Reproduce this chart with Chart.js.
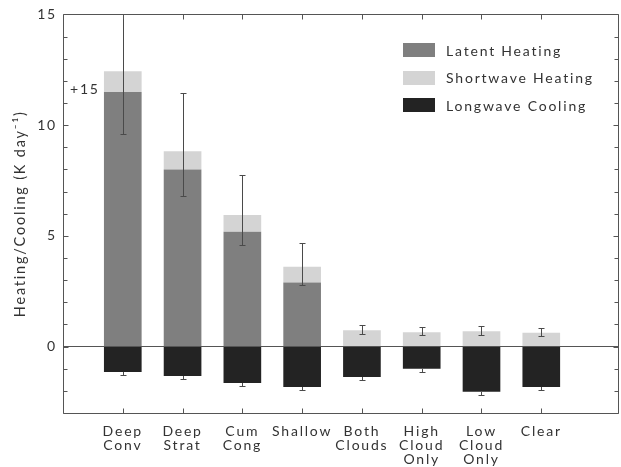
<!DOCTYPE html>
<html>
<head>
<meta charset="utf-8">
<script src="https://cdn.jsdelivr.net/npm/chart.js@4.4.1/dist/chart.umd.min.js"></script>
<style>
html,body{margin:0;padding:0;background:#fff;}
canvas{display:block;}
</style>
</head>
<body>
<canvas id="c" width="621" height="467"></canvas>
<script>
// ---- data ----
const categories = [['Deep','Conv'],['Deep','Strat'],['Cum','Cong'],['Shallow'],['Both','Clouds'],['High','Cloud','Only'],['Low','Cloud','Only'],['Clear']];
const seriesNames = ['Latent Heating','Shortwave Heating','Longwave Cooling'];
const latentHeating    = [11.5, 8.0, 5.19, 2.89, 0, 0, 0, 0];
const shortwaveHeating = [0.93, 0.82, 0.75, 0.72, 0.74, 0.65, 0.69, 0.62];
const longwaveCooling  = [-1.15, -1.33, -1.64, -1.83, -1.37, -1.0, -2.04, -1.83];
const heatErrLow  = [9.59, 6.81, 4.59, 2.79, 0.56, 0.52, 0.52, 0.47];
const heatErrHigh = [15.3, 11.47, 7.73, 4.68, 0.96, 0.87, 0.92, 0.84];
const coolErrLow  = [-1.28, -1.46, -1.80, -1.98, -1.52, -1.15, -2.20, -1.96];
const yLabelValues = [0, 5, 10, 15];
const yMin = -3, yMax = 15;
const annotationText = '+15';

const colors = ['#7f7f7f', '#d4d4d4', '#232323'];
const FONT = 'Lato, "DejaVu Sans", sans-serif';
const SPACING = '1.8px';

const toPts = arr => arr.map((v, i) => ({x: i + 1, y: v}));

const look = {
  id: 'look',
  beforeLayout(c) { c.ctx.letterSpacing = SPACING; },
  beforeDraw(c) {
    const ctx = c.ctx;
    ctx.letterSpacing = SPACING;
    ctx.save();
    ctx.fillStyle = '#ffffff';
    ctx.fillRect(0, 0, c.width, c.height);
    ctx.restore();
  },
  afterDatasetsDraw(c) {
    const ctx = c.ctx, a = c.chartArea, ys = c.scales.y, xs = c.scales.x;
    const meta = c.getDatasetMeta(0);
    // error bars
    ctx.save();
    ctx.beginPath(); ctx.rect(a.left, a.top, a.right - a.left, a.bottom - a.top); ctx.clip();
    ctx.strokeStyle = '#4a4a4a'; ctx.lineWidth = 1;
    const cap = 3;
    meta.data.forEach((el, j) => {
      const x = Math.round(el.x) + 0.5;
      const y1 = Math.round(ys.getPixelForValue(heatErrLow[j])) + 0.5;
      const y2 = Math.round(ys.getPixelForValue(heatErrHigh[j])) + 0.5;
      ctx.beginPath();
      ctx.moveTo(x, y1); ctx.lineTo(x, y2);
      ctx.moveTo(x - cap, y1); ctx.lineTo(x + cap, y1);
      ctx.moveTo(x - cap, y2); ctx.lineTo(x + cap, y2);
      const b = Math.round(ys.getPixelForValue(longwaveCooling[j]));
      const y3 = Math.round(ys.getPixelForValue(coolErrLow[j])) + 0.5;
      ctx.moveTo(x, b); ctx.lineTo(x, y3);
      ctx.moveTo(x - cap, y3); ctx.lineTo(x + cap, y3);
      ctx.stroke();
    });
    ctx.restore();

    // frame and inward ticks
    ctx.save();
    ctx.strokeStyle = '#555'; ctx.lineWidth = 1;
    const L = Math.round(a.left) + 0.5, R = Math.round(a.right) - 0.5;
    const T = Math.round(a.top) + 0.5, B = Math.round(a.bottom) + 0.5;
    ctx.beginPath();
    ctx.rect(L, T, R - L, B - T);
    ys.ticks.forEach(t => {
      const y = Math.round(ys.getPixelForValue(t.value)) + 0.5;
      const len = (t.value % 5 === 0) ? 5 : 4;
      ctx.moveTo(L, y); ctx.lineTo(L + len, y);
      ctx.moveTo(R, y); ctx.lineTo(R - len, y);
    });
    xs.ticks.forEach(t => {
      const x = Math.round(xs.getPixelForValue(t.value)) + 0.5;
      ctx.moveTo(x, T); ctx.lineTo(x, T + 5);
      ctx.moveTo(x, B); ctx.lineTo(x, B - 5);
    });
    ctx.stroke();
    ctx.restore();

    // annotation
    ctx.save();
    ctx.letterSpacing = SPACING;
    ctx.fillStyle = '#333';
    ctx.font = '14px ' + FONT;
    ctx.textBaseline = 'middle';
    ctx.textAlign = 'left';
    ctx.fillText(annotationText, a.left + 7, ys.getPixelForValue(latentHeating[0]) - 2);
    ctx.restore();

    // legend inside plot, top right
    ctx.save();
    ctx.letterSpacing = SPACING;
    ctx.font = '14px ' + FONT;
    ctx.textBaseline = 'middle';
    ctx.textAlign = 'left';
    c.data.datasets.forEach((ds, i) => {
      const yc = a.top + 36 + i * 27.5;
      const bx = a.right - 216;
      ctx.fillStyle = ds.backgroundColor;
      ctx.fillRect(bx, Math.round(yc - 7), 32, 14);
      ctx.fillStyle = '#333';
      ctx.fillText(ds.label, bx + 43, yc + 1);
    });
    ctx.restore();
  }
};

new Chart(document.getElementById('c'), {
  type: 'bar',
  data: {
    datasets: [
      {label: seriesNames[0], data: toPts(latentHeating),    backgroundColor: colors[0]},
      {label: seriesNames[1], data: toPts(shortwaveHeating), backgroundColor: colors[1]},
      {label: seriesNames[2], data: toPts(longwaveCooling),  backgroundColor: colors[2]}
    ]
  },
  options: {
    responsive: false,
    animation: false,
    events: [],
    categoryPercentage: 1,
    barPercentage: 0.63,
    layout: {padding: {top: 6, right: 2, left: 0, bottom: 0}},
    plugins: {legend: {display: false}, tooltip: {enabled: false}},
    scales: {
      x: {
        type: 'linear',
        stacked: true,
        offset: false,
        min: 0,
        max: 9.3,
        grid: {display: false, drawTicks: false, offset: false},
        border: {display: false},
        afterBuildTicks: s => { s.ticks = categories.map((c, i) => ({value: i + 1})); },
        afterFit: s => { s.height = 54; },
        ticks: {
          autoSkip: false,
          maxRotation: 0,
          padding: 11,
          color: '#333',
          font: {family: FONT, size: 14, lineHeight: 1.02},
          callback: (v) => categories[v - 1] || ''
        }
      },
      y: {
        stacked: true,
        min: yMin,
        max: yMax,
        border: {display: false},
        grid: {
          drawTicks: false,
          color: ctx => (ctx.tick && ctx.tick.value === 0) ? '#555' : 'rgba(0,0,0,0)',
          lineWidth: 1
        },
        afterFit: s => { s.width = 63; },
        ticks: {
          stepSize: 1,
          padding: 6,
          color: '#333',
          font: {family: FONT, size: 14},
          callback: v => yLabelValues.includes(v) ? String(v) : ''
        },
        title: {
          display: true,
          text: 'Heating/Cooling (K day\u207B\u00B9)',
          color: '#333',
          font: {family: FONT, size: 14.5},
          padding: {top: 12, bottom: 0}
        }
      }
    }
  },
  plugins: [look]
});
</script>
</body>
</html>
